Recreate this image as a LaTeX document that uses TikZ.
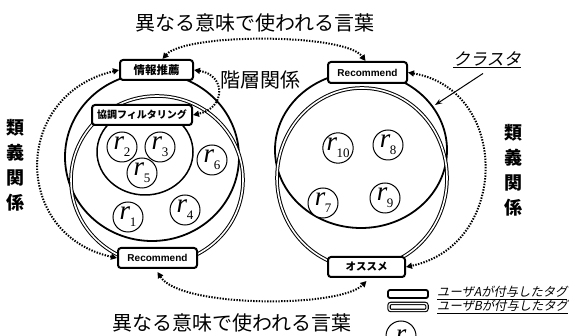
\documentclass[tikz,border=0pt]{standalone}
\usepackage{fontspec}
\usetikzlibrary{arrows.meta,calc}
\newfontfamily\jp{Noto Sans CJK JP}
\newfontfamily\jpsl{Noto Sans CJK JP}[FakeSlant=0.2]
\newfontfamily\lsans{Liberation Sans}
\newfontfamily\rserif{Liberation Serif}
\newcommand{\rlab}[1]{{\itshape r}\kern-0.5pt\raisebox{-7pt}{\fontsize{13}{13}\selectfont #1}}
\begin{document}
\begin{tikzpicture}[x=1pt,y=-1pt,
  tagbox/.style={draw,line width=2pt,rounded corners=3pt,fill=white,inner sep=0pt,minimum height=20pt},
  jptag/.style={tagbox,font=\jp\bfseries\fontsize{10.5}{10.5}\selectfont},
  entag/.style={tagbox,font=\lsans\bfseries\fontsize{10}{10}\selectfont},
  rnode/.style={draw,circle,line width=1pt,minimum size=30pt,inner sep=0pt,fill=white,font=\rserif\fontsize{27}{27}\selectfont},
  single/.style={line width=1.8pt},
  dbl/.style={double,line width=1pt,double distance=1.6pt},
  dotarrow/.style={line width=2pt,dash pattern=on 1.4pt off 1.4pt,{Triangle[length=6pt,width=6pt]}-{Triangle[length=6pt,width=6pt]}},
  title/.style={font=\jp\fontsize{20}{20}\selectfont},
  vert/.style={align=center,font=\jp\bfseries\fontsize{18}{25}\selectfont},
  legtxt/.style={anchor=west,inner sep=0pt,font=\jpsl\fontsize{12.3}{12.3}\selectfont},
]
\useasboundingbox (0,0) rectangle (578,336);
\clip (0,0) rectangle (578,336);

% left cluster
\draw[single] (152,157) ellipse [x radius=87pt, y radius=84pt];
\draw[dbl] (157,180) ellipse [x radius=86pt, y radius=84pt];
\draw[line width=1.5pt] (145,152) ellipse [x radius=48pt, y radius=43pt];

% right cluster
\draw[single] (361,150) ellipse [x radius=86pt, y radius=78pt];
\draw[dbl] (362,178) ellipse [x radius=85pt, y radius=90pt];

% tags
\node[jptag,minimum width=73pt,font=\jp\bfseries\fontsize{11.5}{11.5}\selectfont] (info) at (156.5,70) {情報推薦};
\node[jptag,minimum width=100pt,font=\jp\bfseries\fontsize{10}{10}\selectfont] (kyo) at (142,115) {協調フィルタリング};
\node[entag,minimum width=79pt] (recB) at (157.5,258) {Recommend};
\node[entag,minimum width=79pt,minimum height=21pt] (recT) at (367.5,72.5) {Recommend};
\node[jptag,minimum width=77pt] (oss) at (366.5,267) {オススメ};

% resources
\node[rnode] (r2) at (122,147) {\rlab{2}};
\node[rnode] (r3) at (160,147) {\rlab{3}};
\node[rnode] (r5) at (142,173) {\rlab{5}};
\node[rnode] (r6) at (212,160) {\rlab{6}};
\node[rnode] (r1) at (128,217) {\rlab{1}};
\node[rnode] (r4) at (185,210) {\rlab{4}};
\node[rnode] (r10) at (338,148) {\rlab{10}};
\node[rnode] (r8) at (388,145) {\rlab{8}};
\node[rnode] (r7) at (323,203) {\rlab{7}};
\node[rnode] (r9) at (385,198) {\rlab{9}};

% texts
\node[title] (ttop) at (255,23) {異なる意味で使われる言葉};
\node[title] (tbot) at (232,323) {異なる意味で使われる言葉};
\node[title] (hier) at (260,80) {階層関係};
\node[vert] (synL) at (15,165) {類\\義\\関\\係};
\node[vert] (synR) at (513,170) {類\\義\\関\\係};
\node[font=\jpsl\fontsize{17}{17}\selectfont,inner sep=0pt] (cl) at (487,60) {\underline{クラスタ}};
\coordinate (clt) at (435,105);
\draw[line width=1pt,-{Stealth[length=7pt,width=5pt]}] ([xshift=-4pt,yshift=-5pt]cl.south) -- (clt);

% dotted relations
\draw[dotarrow] ([xshift=6pt]info.north) .. controls (185,33) and (345,33) .. ([xshift=-2pt]recT.north);
\draw[dotarrow] ([yshift=-3pt]recB.south) .. controls (180,308) and (340,308) .. ([yshift=-3pt]oss.south);
\draw[dotarrow] (info.west) .. controls (12,95) and (12,235) .. (recB.west);
\draw[dotarrow] (recT.east) .. controls (510,90) and (510,245) .. (oss.east);
\draw[dotarrow] (info.east) .. controls (226,75) and (226,108) .. (kyo.east);

% legend
\node[draw,line width=1.8pt,rounded corners=2pt,minimum width=40pt,minimum height=8pt,inner sep=0pt] (legA) at (408,294) {};
\node[draw,double,line width=1.1pt,double distance=1.3pt,rounded corners=2pt,minimum width=38pt,minimum height=7pt,inner sep=0pt] (legB) at (408,307) {};
\node[legtxt] (legAt) at (437,293) {\underline{ユーザAが付与したタグ}};
\node[legtxt] (legBt) at (437,307) {\underline{ユーザBが付与したタグ}};
\node[rnode] (rn) at (401,336) {\itshape r};
\end{tikzpicture}
\end{document}
